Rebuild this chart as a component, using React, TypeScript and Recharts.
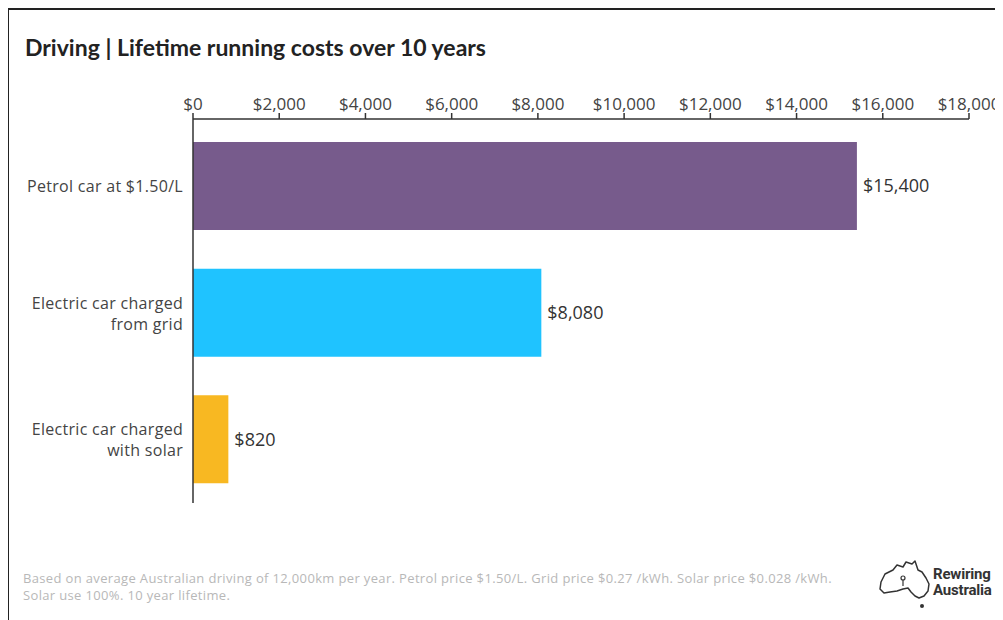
import React from "react";
import { BarChart, Bar, XAxis, YAxis, Cell, LabelList } from "recharts";

// values
const categories = [
  "Petrol car at $1.50/L",
  "Electric car charged\nfrom grid",
  "Electric car charged\nwith solar",
];
const costs = [15400, 8080, 820];
const barColors = ["#775b8c", "#1fc3ff", "#f8b822"];
const xTicks = [0, 2000, 4000, 6000, 8000, 10000, 12000, 14000, 16000, 18000];

const data = categories.map((name, i) => ({ name, cost: costs[i] }));

const fmt = (v: number) => `$${v.toLocaleString("en-US")}`;
const font = "'Open Sans', Lato, sans-serif";

const CategoryTick = (props: any) => {
  const { x, y, payload } = props;
  const lines = String(payload.value).split("\n");
  const lh = 21;
  const startY = y - ((lines.length - 1) * lh) / 2;
  return (
    <text
      x={x}
      y={startY}
      textAnchor="end"
      dominantBaseline="central"
      fill="#444"
      fontSize={16}
      letterSpacing={0.3}
      fontFamily={font}
    >
      {lines.map((l, i) => (
        <tspan key={i} x={x} y={startY + i * lh}>
          {l}
        </tspan>
      ))}
    </text>
  );
};

export default function App() {
  return (
    <div
      style={{
        position: "relative",
        width: 995,
        height: 612,
        borderTop: "2px solid #222",
        borderLeft: "2px solid #222",
        boxSizing: "border-box",
        marginLeft: -1,
        background: "#fff",
        fontFamily: font,
      }}
    >
      <div
        style={{
          position: "absolute",
          left: 16,
          top: 24,
          fontSize: 23,
          lineHeight: "26px",
          fontWeight: 700,
          color: "#222",
          whiteSpace: "nowrap",
          fontFamily: "Lato, sans-serif",
        }}
      >
        Driving | Lifetime running costs over 10 years
      </div>

      <div style={{ position: "absolute", left: -1, top: -2 }}>
        <BarChart
          width={996}
          height={520}
          data={data}
          layout="vertical"
          margin={{ top: 81, right: 35, bottom: 25, left: 10 }}
          barSize={88}
        >
          <XAxis
            type="number"
            orientation="top"
            domain={[0, 18000]}
            ticks={xTicks}
            tickFormatter={fmt}
            height={30}
            tick={{ fill: "#444", fontSize: 17, fontFamily: font }}
            tickSize={6}
            tickMargin={3}
            axisLine={{ stroke: "#333", strokeWidth: 1.5 }}
            tickLine={{ stroke: "#333", strokeWidth: 1.5 }}
            interval={0}
          />
          <YAxis
            type="category"
            dataKey="name"
            width={175}
            padding={{ top: 4, bottom: 0 }}
            tick={<CategoryTick />}
            tickLine={false}
            tickSize={0}
            tickMargin={10}
            axisLine={{ stroke: "#333", strokeWidth: 1.5 }}
            interval={0}
          />
          <Bar dataKey="cost" isAnimationActive={false}>
            {data.map((d, i) => (
              <Cell key={d.name} fill={barColors[i]} />
            ))}
            <LabelList
              dataKey="cost"
              position="right"
              offset={6}
              formatter={(v: any) => fmt(Number(v))}
              style={{ fill: "#333", fontSize: 18, fontFamily: font }}
            />
          </Bar>
        </BarChart>
      </div>

      <div
        style={{
          position: "absolute",
          left: 14,
          top: 560,
          fontSize: 13,
          lineHeight: "17px",
          letterSpacing: 0.35,
          color: "#b8b8b8",
          whiteSpace: "nowrap",
        }}
      >
        Based on average Australian driving of 12,000km per year. Petrol price $1.50/L. Grid price $0.27 /kWh. Solar price $0.028 /kWh.
        <br />
        Solar use 100%. 10 year lifetime.
      </div>

      <svg
        style={{ position: "absolute", left: 866, top: 548 }}
        width={60}
        height={56}
        viewBox="0 0 60 56"
      >
        <path
          d="M6 24 L10 16 L18 12 L22 7 L28 9 L31 4 L37 6 L40 3 L43 12 L47 14 L51 20 L54 26 L53 33 L49 38 L44 40 L40 38 L36 34 L33 30 L28 31 L22 33 L15 34 L9 35 L5 31 Z"
          fill="none"
          stroke="#333"
          strokeWidth={1.5}
          strokeLinejoin="round"
        />
        <circle cx={28} cy={20} r={2} fill="none" stroke="#333" strokeWidth={1.2} />
        <line x1={28} y1={22} x2={28} y2={28} stroke="#333" strokeWidth={1.2} />
        <circle cx={47} cy={48} r={2} fill="#333" />
      </svg>
      <div
        style={{
          position: "absolute",
          left: 924,
          top: 556,
          fontSize: 15,
          lineHeight: "16px",
          fontWeight: 700,
          color: "#333",
          fontFamily: "'Liberation Sans Narrow', 'Roboto', sans-serif",
          letterSpacing: -0.2,
        }}
      >
        Rewiring
        <br />
        Australia
      </div>
    </div>
  );
}
